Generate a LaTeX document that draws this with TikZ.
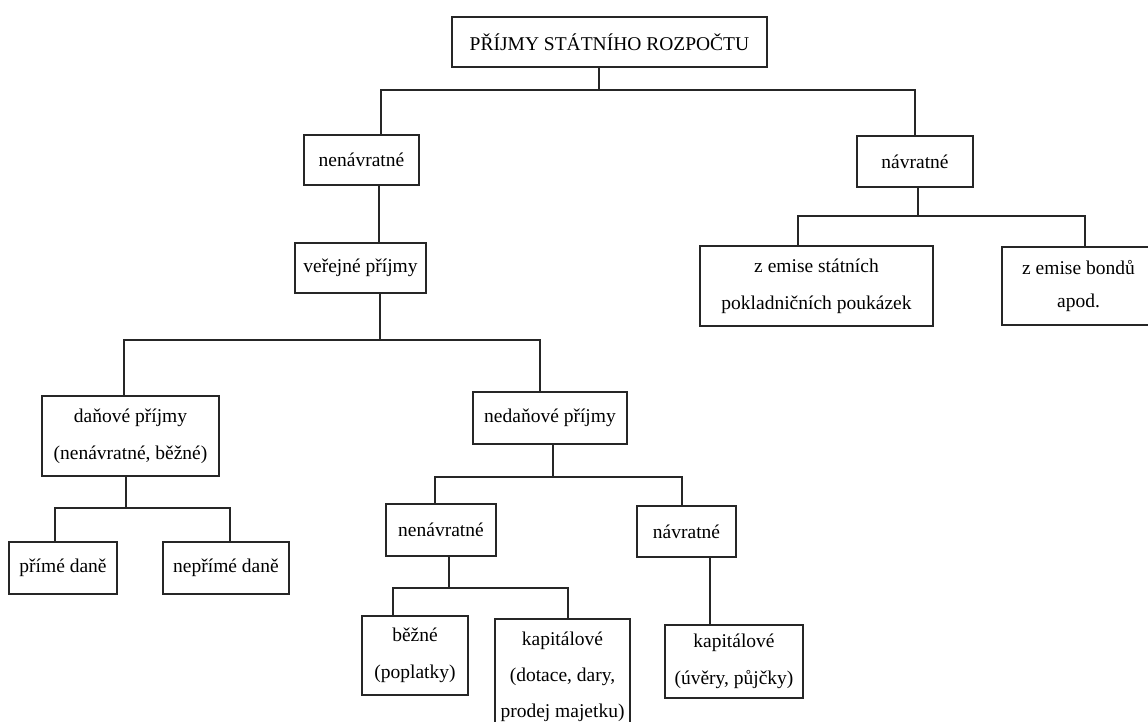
\documentclass[tikz,border=0pt]{standalone}
\usepackage{fontspec}
\setmainfont{Liberation Serif}
\begin{document}
\begin{tikzpicture}[x=1pt,y=-1pt,
  box/.style={draw=black!85, line width=1.4pt, inner sep=0pt, align=center,
    font=\fontsize{19.5}{37}\selectfont},
  conn/.style={draw=black!85, line width=1.4pt}]
\useasboundingbox (0,0) rectangle (1148,722);
\clip (0,0) rectangle (1148,722);
\fill[white] (0,0) rectangle (1148,722);
% boxes
\node[box, minimum width=315pt, minimum height=50pt] (top) at (609.5,42) {PŘÍJMY STÁTNÍHO ROZPOČTU};
\node[box, minimum width=115pt, minimum height=50pt] (nen1) at (361.5,160) {nenávratné};
\node[box, minimum width=116pt, minimum height=51pt] (nav1) at (915,161.5) {návratné};
\node[box, minimum width=131pt, minimum height=50pt] (ver) at (360.5,268) {veřejné příjmy};
\node[box, minimum width=233pt, minimum height=80pt] (zst) at (816.5,286) {z emise státních\\pokladničních poukázek};
\node[box, minimum width=153pt, minimum height=78pt, font=\fontsize{19.5}{33}\selectfont] (zbo) at (1078.5,286) {z emise bondů\\apod.};
\node[box, minimum width=177pt, minimum height=80pt] (dan) at (130.5,436) {daňové příjmy\\(nenávratné, běžné)};
\node[box, minimum width=154pt, minimum height=52pt] (neda) at (550,418) {nedaňové příjmy};
\node[box, minimum width=108pt, minimum height=52pt] (prime) at (63,568) {přímé daně};
\node[box, minimum width=126pt, minimum height=52pt] (neprime) at (226,568) {nepřímé daně};
\node[box, minimum width=110pt, minimum height=52pt] (nen2) at (441,530) {nenávratné};
\node[box, minimum width=99pt, minimum height=51pt] (nav2) at (686.5,531.5) {návratné};
\node[box, minimum width=106pt, minimum height=79pt] (bez) at (415,655.5) {běžné\\(poplatky)};
\node[box, minimum width=135pt, minimum height=115pt, font=\fontsize{19.5}{36}\selectfont] (kap1) at (562.5,676.5) {kapitálové\\(dotace, dary,\\prodej majetku)};
\node[box, minimum width=138pt, minimum height=73pt] (kap2) at (734,661.5) {kapitálové\\(úvěry, půjčky)};
% junction coordinates
\coordinate (j0) at (599,90);
\coordinate (j1) at (380,340);
\coordinate (j2) at (126,508);
\coordinate (j3) at (553,477);
\coordinate (j4) at (449,588);
\coordinate (j5) at (918,216);
% connectors
\draw[conn] ([xshift=-10.5pt]top.south) -- (j0);
\draw[conn] ([xshift=19.5pt]nen1.north) |- (j0) -| (nav1.north);
\draw[conn] ([xshift=17.5pt]nen1.south) -- ([xshift=18.5pt]ver.north);
\draw[conn] ([xshift=19.5pt]ver.south) -- (j1);
\draw[conn] ([xshift=-6.5pt]dan.north) |- (j1) -| ([xshift=-10pt]neda.north);
\draw[conn] ([xshift=-4.5pt]dan.south) -- (j2);
\draw[conn] ([xshift=-8pt]prime.north) |- (j2) -| ([xshift=4pt]neprime.north);
\draw[conn] ([xshift=3pt]neda.south) -- (j3);
\draw[conn] ([xshift=-6pt]nen2.north) |- (j3) -| ([xshift=-4.5pt]nav2.north);
\draw[conn] ([xshift=8pt]nen2.south) -- (j4);
\draw[conn] ([xshift=-22pt]bez.north) |- (j4) -| ([xshift=5.5pt]kap1.north);
\draw[conn] ([xshift=23.5pt]nav2.south) -- ([xshift=-24pt]kap2.north);
\draw[conn] ([xshift=3pt]nav1.south) -- (j5);
\draw[conn] ([xshift=-18.5pt]zst.north) |- (j5) -| ([xshift=6.5pt]zbo.north);
\end{tikzpicture}
\end{document}
